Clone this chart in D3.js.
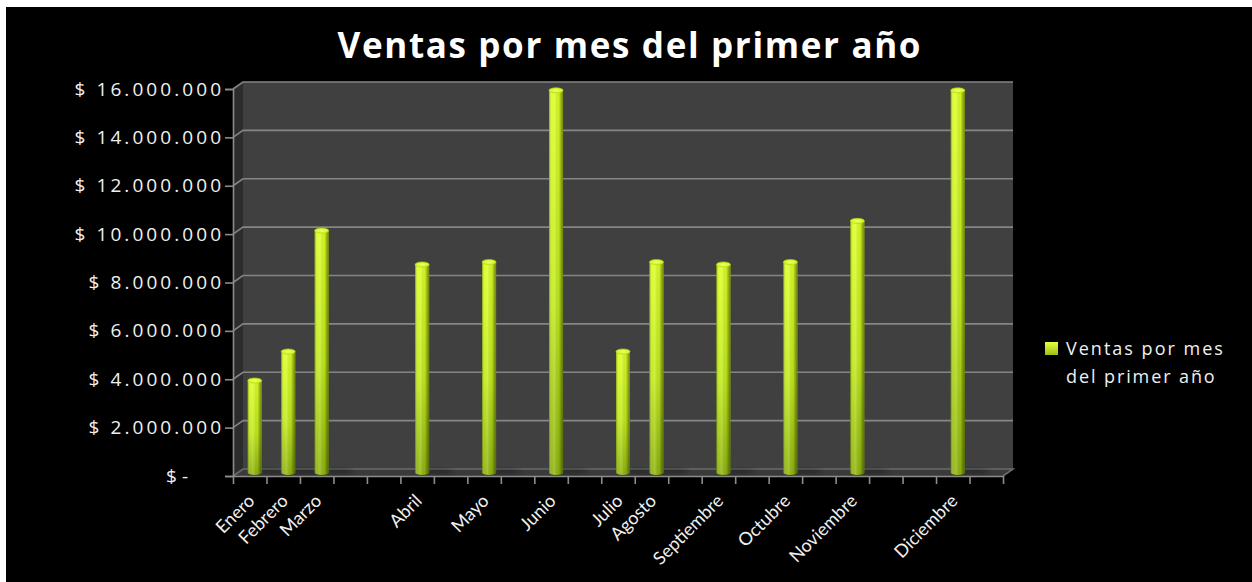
<!DOCTYPE html>
<html>
<head>
<meta charset="utf-8">
<script src="https://cdn.jsdelivr.net/npm/d3@7"></script>
<style>
  html, body { margin: 0; padding: 0; background: #ffffff; }
  svg { display: block; }
</style>
</head>
<body>
<svg id="chart" width="1252" height="582"></svg>
<script>
// ---- data ----
const months = ["Enero", "Febrero", "Marzo", "Abril", "Mayo", "Junio",
                "Julio", "Agosto", "Septiembre", "Octubre", "Noviembre", "Diciembre"];
const sales = [3800000, 5000000, 10000000, 8600000, 8700000, 15800000,
               5000000, 8700000, 8600000, 8700000, 10400000, 15800000];
// position of each month on the category axis (the axis has empty slots)
const slots = [0, 1, 2, 5, 7, 9, 11, 12, 14, 16, 18, 21];
const slotCount = 23;
const yTicks = [0, 2000000, 4000000, 6000000, 8000000, 10000000, 12000000, 14000000, 16000000];
const seriesName = ["Ventas por mes", "del primer año"];
const titleText = "Ventas por mes del primer año";

// ---- layout ----
const W = 1252, H = 582;
const frame = { x: 6, y: 7 };
const plot = { left: 233, right: 1003, top: 89, bottom: 476 };
const depth = { dx: 10, dy: -7 };
const font = "'Open Sans', Lato, sans-serif";
const labelFont = "Lato, 'Open Sans', sans-serif";

const svg = d3.select("#chart");
const defs = svg.append("defs");

// bar body: bright yellow at the top fading to olive green
const gBody = defs.append("linearGradient").attr("id", "barBody")
  .attr("x1", 0).attr("y1", 0).attr("x2", 0).attr("y2", 1);
gBody.append("stop").attr("offset", 0).attr("stop-color", "#dcff24");
gBody.append("stop").attr("offset", 0.55).attr("stop-color", "#c2ea1c");
gBody.append("stop").attr("offset", 1).attr("stop-color", "#8fb40e");

// cylinder shading across the width
const gShade = defs.append("linearGradient").attr("id", "barShade")
  .attr("x1", 0).attr("y1", 0).attr("x2", 1).attr("y2", 0);
gShade.append("stop").attr("offset", 0).attr("stop-color", "#3d5200").attr("stop-opacity", 0.55);
gShade.append("stop").attr("offset", 0.18).attr("stop-color", "#ffffff").attr("stop-opacity", 0.05);
gShade.append("stop").attr("offset", 0.38).attr("stop-color", "#ffffff").attr("stop-opacity", 0.18);
gShade.append("stop").attr("offset", 0.7).attr("stop-color", "#000000").attr("stop-opacity", 0.05);
gShade.append("stop").attr("offset", 1).attr("stop-color", "#2a3a00").attr("stop-opacity", 0.6);

const gCap = defs.append("radialGradient").attr("id", "barCap");
gCap.append("stop").attr("offset", 0).attr("stop-color", "#f2ff70");
gCap.append("stop").attr("offset", 1).attr("stop-color", "#cdf21c");

const gKey = defs.append("linearGradient").attr("id", "keyFill")
  .attr("x1", 0).attr("y1", 0).attr("x2", 0).attr("y2", 1);
gKey.append("stop").attr("offset", 0).attr("stop-color", "#e6ff40");
gKey.append("stop").attr("offset", 1).attr("stop-color", "#9cc012");

defs.append("filter").attr("id", "soft")
  .append("feGaussianBlur").attr("stdDeviation", 2.5);

// ---- background ----
svg.append("rect").attr("width", W).attr("height", H).attr("fill", "#ffffff");
svg.append("rect").attr("x", frame.x).attr("y", frame.y)
  .attr("width", W - frame.x).attr("height", H - frame.y).attr("fill", "#000000");

// ---- scales ----
const x = d3.scaleBand().domain(d3.range(slotCount))
  .range([plot.left, plot.right]).padding(0);
const xEdge = d3.scaleLinear().domain([0, slotCount]).range([plot.left, plot.right]);
const y = d3.scaleLinear().domain([0, 16000000]).range([plot.bottom, plot.top]);

const locale = d3.formatLocale({ decimal: ",", thousands: ".", grouping: [3], currency: ["$ ", ""] });
const money = locale.format("$,");
const fmt = v => v === 0 ? "$ -" : money(v);

// widen horizontal text by opening up its letter spacing
const spread = (sel, factor) => sel.each(function () {
  const len = this.getComputedTextLength();
  d3.select(this).attr("textLength", (len * factor).toFixed(1)).attr("lengthAdjust", "spacing");
});

// ---- 3D walls ----
const walls = svg.append("g");
const yTop = y(16000000), y0 = y(0);
walls.append("polygon")   // side wall
  .attr("points", [[plot.left, y0], [plot.left + depth.dx, y0 + depth.dy],
                   [plot.left + depth.dx, yTop + depth.dy], [plot.left, yTop]].join(" "))
  .attr("fill", "#2c2c2c");
walls.append("rect")      // back wall
  .attr("x", plot.left + depth.dx).attr("y", yTop + depth.dy)
  .attr("width", plot.right - plot.left).attr("height", y0 - yTop)
  .attr("fill", "#404040");
walls.append("polygon")   // floor
  .attr("points", [[plot.left, y0], [plot.right, y0],
                   [plot.right + depth.dx, y0 + depth.dy], [plot.left + depth.dx, y0 + depth.dy]].join(" "))
  .attr("fill", "#3a3a3a");

// gridlines on the back wall and the side wall
const grid = svg.append("g").attr("stroke", "#858585").attr("stroke-width", 1.6).attr("fill", "none");
yTicks.filter(v => v > 0).forEach(v => {
  grid.append("path").attr("d",
    `M${plot.left},${y(v)}L${plot.left + depth.dx},${y(v) + depth.dy}H${plot.right + depth.dx}`);
});
grid.append("path").attr("d",
  `M${plot.left},${y0}L${plot.left + depth.dx},${y0 + depth.dy}H${plot.right + depth.dx}L${plot.right},${y0}`)
  .attr("stroke", "#6a6a6a");

// ---- bars (cylinders standing mid-depth) ----
const bars = months.map((m, i) => ({ month: m, value: sales[i], slot: slots[i] }));
const cxOf = d => x(d.slot) + x.bandwidth() / 2 + depth.dx / 2;
const base = y0 + depth.dy / 2;
const r = 7, ry = 2.6;

const shadows = svg.append("g").attr("filter", "url(#soft)");
shadows.selectAll("ellipse").data(bars).join("ellipse")
  .attr("cx", d => cxOf(d) + 16).attr("cy", base - 1)
  .attr("rx", 16).attr("ry", 3)
  .attr("fill", "#000").attr("opacity", 0.3);

const gBars = svg.append("g");
const barPath = d => {
  const cx = cxOf(d), top = y(d.value) + depth.dy / 2;
  return `M${cx - r},${top}V${base}A${r},${ry} 0 0 0 ${cx + r},${base}V${top}Z`;
};
gBars.selectAll("path.body").data(bars).join("path").attr("class", "body")
  .attr("d", barPath).attr("fill", "url(#barBody)");
gBars.selectAll("path.shade").data(bars).join("path").attr("class", "shade")
  .attr("d", barPath).attr("fill", "url(#barShade)");
gBars.selectAll("ellipse").data(bars).join("ellipse")
  .attr("cx", cxOf).attr("cy", d => y(d.value) + depth.dy / 2)
  .attr("rx", r).attr("ry", ry)
  .attr("fill", "url(#barCap)").attr("stroke", "#b5d612").attr("stroke-width", 0.6);

// ---- axes ----
const axisColor = "#8c8c8c";
const yAxis = svg.append("g").attr("transform", `translate(${plot.left},0)`)
  .call(d3.axisLeft(y).tickValues(yTicks).tickFormat(fmt).tickSize(8).tickPadding(4));
yAxis.select(".domain").attr("stroke", axisColor).attr("stroke-width", 1.6);
yAxis.selectAll(".tick line").attr("stroke", axisColor).attr("stroke-width", 1.6);
const yLabels = yAxis.selectAll(".tick text")
  .attr("fill", "#f0f0f0").style("font-family", font).style("font-size", "19px")
  .style("font-weight", 500)
  .attr("dx", v => v === 0 ? -33 : 0);
yLabels.filter(v => v > 0).call(spread, 1.3);

const xAxis = svg.append("g").attr("transform", `translate(0,${plot.bottom})`)
  .call(d3.axisBottom(xEdge).tickValues(d3.range(slotCount + 1)).tickFormat("").tickSize(8).tickSizeOuter(0));
xAxis.select(".domain").attr("stroke", axisColor).attr("stroke-width", 1.6);
xAxis.selectAll(".tick line").attr("stroke", axisColor).attr("stroke-width", 1.6);

// month labels, rotated
svg.append("g").selectAll("text").data(bars).join("text")
  .attr("transform", d => `translate(${cxOf(d) + 1},${plot.bottom + 26}) rotate(-45)`)
  .attr("text-anchor", "end")
  .attr("fill", "#f0f0f0").style("font-family", labelFont).style("font-size", "18px")
  .text(d => d.month);

// ---- title ----
svg.append("text")
  .attr("x", (frame.x + W) / 2).attr("y", 58)
  .attr("text-anchor", "middle").attr("fill", "#ffffff")
  .style("font-family", font).style("font-weight", "bold").style("font-size", "35px")
  .attr("textLength", 583).attr("lengthAdjust", "spacing")
  .text(titleText);

// ---- legend ----
const legend = svg.append("g").attr("transform", "translate(1045,342)");
legend.append("rect").attr("width", 13).attr("height", 13).attr("fill", "url(#keyFill)");
legend.selectAll("text").data(seriesName).join("text")
  .attr("x", 21).attr("y", (d, i) => 13 + i * 28)
  .attr("fill", "#f0f0f0").style("font-family", font).style("font-size", "18px")
  .style("font-weight", 500)
  .text(d => d)
  .call(spread, 1.2);
</script>
</body>
</html>
